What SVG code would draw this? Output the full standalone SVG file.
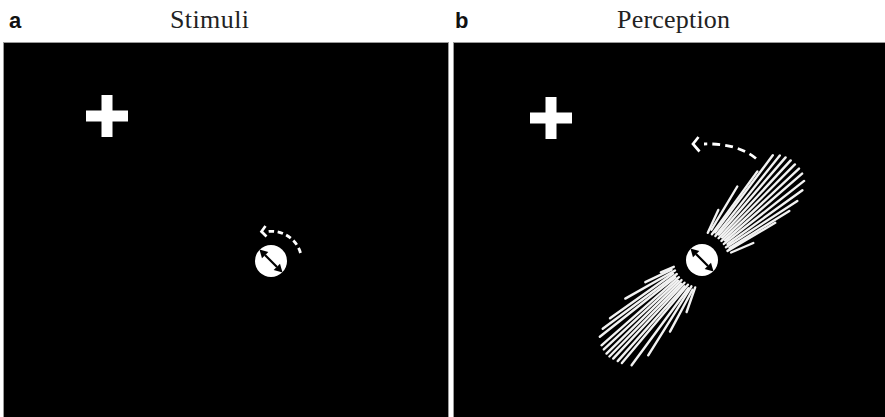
<svg xmlns="http://www.w3.org/2000/svg" xmlns:xlink="http://www.w3.org/1999/xlink" width="885" height="417" viewBox="0 0 885 417">
  <style>
    .panel { fill: #000; stroke: #9a9a9a; stroke-width: 1; }
    .letter { font-family: "Liberation Sans", Arial, sans-serif; font-weight: bold; font-size: 22px; fill: #111; }
    .title { font-family: "Liberation Serif", "Times New Roman", serif; font-size: 26px; fill: #222; }
    .cross { fill: #fff; }
    .ray { stroke: #f2f2f2; stroke-width: 2.4; stroke-linecap: round; fill: none; }
    .dash-s { fill: none; stroke: #fff; stroke-width: 2.8; stroke-dasharray: 5.5 3.5; }
    .dash-l { fill: none; stroke: #fff; stroke-width: 2.8; stroke-dasharray: 8 5; }
    .chev { fill: none; stroke: #fff; stroke-width: 2.7; stroke-linejoin: miter; stroke-linecap: butt; }
  </style>
  <defs>
    <!-- fixation cross, centred on its origin -->
    <path id="plus" class="cross" d="M-5.5,-21 H5.5 V-5.5 H21 V5.5 H5.5 V21 H-5.5 V5.5 H-21 V-5.5 H-5.5 Z"/>
    <!-- white disc carrying a double-headed orientation arrow -->
    <g id="dial">
      <circle r="16" fill="#fff"/>
      <line x1="-6" y1="-6" x2="6" y2="6" stroke="#000" stroke-width="2.2"/>
      <polygon points="-11.5,-11.5 -2.66,-9.02 -9.02,-2.66" fill="#000"/>
      <polygon points="11.5,11.5 2.66,9.02 9.02,2.66" fill="#000"/>
    </g>
  </defs>

  <rect width="885" height="417" fill="#fff"/>

  <!-- panel a: stimuli -->
  <g id="panel-a">
    <text class="letter" x="9" y="28">a</text>
    <text class="title" x="170" y="28" textLength="79" lengthAdjust="spacing">Stimuli</text>
    <rect class="panel" x="3.5" y="42.5" width="445" height="380"/>
    <use id="cross-a" xlink:href="#plus" x="107" y="116"/>
    <use id="dial-a" xlink:href="#dial" x="271" y="261"/>
    <g id="rotation-a">
      <path class="dash-s" d="M300.5,253 A30,30 0 0 0 268,231.5"/>
      <polyline class="chev" points="265.5,226 261.5,231.5 266.5,236.5"/>
    </g>
  </g>

  <!-- panel b: perception -->
  <g id="panel-b">
    <text class="letter" x="455" y="28">b</text>
    <text class="title" x="617" y="28" textLength="113" lengthAdjust="spacing">Perception</text>
    <rect class="panel" x="453.5" y="42.5" width="440" height="380"/>
    <use id="cross-b" xlink:href="#plus" x="551" y="118"/>

    <!-- smeared streaks on the upper-right side -->
    <g id="fan-upper">
      <line class="ray" x1="707.8" y1="232.8" x2="718.3" y2="209.9"/>
      <line class="ray" x1="711.4" y1="229.7" x2="737.3" y2="186.5"/>
      <line class="ray" x1="711.9" y1="234.2" x2="757.4" y2="171.4"/>
      <line class="ray" x1="715.1" y1="232.4" x2="772.8" y2="155.2"/>
      <line class="ray" x1="715.4" y1="236.0" x2="779.8" y2="155.4"/>
      <line class="ray" x1="718.8" y1="234.6" x2="785.6" y2="157.4"/>
      <line class="ray" x1="718.6" y1="238.2" x2="790.7" y2="160.4"/>
      <line class="ray" x1="722.1" y1="237.3" x2="794.9" y2="164.4"/>
      <line class="ray" x1="721.5" y1="240.9" x2="799.0" y2="168.6"/>
      <line class="ray" x1="725.1" y1="240.5" x2="802.1" y2="173.6"/>
      <line class="ray" x1="723.9" y1="243.9" x2="804.1" y2="180.9"/>
      <line class="ray" x1="727.6" y1="244.0" x2="802.4" y2="190.3"/>
      <line class="ray" x1="726.0" y1="247.3" x2="797.3" y2="201.0"/>
      <line class="ray" x1="729.5" y1="247.9" x2="789.3" y2="211.0"/>
      <line class="ray" x1="727.5" y1="250.9" x2="775.2" y2="222.8"/>
      <line class="ray" x1="731.1" y1="252.5" x2="753.3" y2="243.0"/>
    </g>

    <!-- smeared streaks on the lower-left side -->
    <g id="fan-lower">
      <line class="ray" x1="673.8" y1="266.8" x2="660.8" y2="272.3"/>
      <line class="ray" x1="671.5" y1="269.6" x2="645.3" y2="282.2"/>
      <line class="ray" x1="675.0" y1="270.5" x2="625.3" y2="298.6"/>
      <line class="ray" x1="673.1" y1="273.6" x2="610.0" y2="318.2"/>
      <line class="ray" x1="676.8" y1="274.0" x2="602.7" y2="328.8"/>
      <line class="ray" x1="675.3" y1="277.3" x2="599.8" y2="336.8"/>
      <line class="ray" x1="678.9" y1="277.2" x2="601.5" y2="345.3"/>
      <line class="ray" x1="678.0" y1="280.7" x2="603.8" y2="349.4"/>
      <line class="ray" x1="681.5" y1="280.1" x2="606.5" y2="353.6"/>
      <line class="ray" x1="681.1" y1="283.7" x2="609.4" y2="356.5"/>
      <line class="ray" x1="684.5" y1="282.7" x2="613.2" y2="358.6"/>
      <line class="ray" x1="684.6" y1="286.3" x2="617.7" y2="361.1"/>
      <line class="ray" x1="687.9" y1="284.7" x2="621.9" y2="363.1"/>
      <line class="ray" x1="688.4" y1="288.3" x2="631.6" y2="365.2"/>
      <line class="ray" x1="691.4" y1="286.3" x2="648.2" y2="355.3"/>
      <line class="ray" x1="692.5" y1="289.8" x2="670.0" y2="331.6"/>
      <line class="ray" x1="695.2" y1="287.4" x2="686.6" y2="312.0"/>
    </g>

    <use id="dial-b" xlink:href="#dial" x="702" y="260"/>
    <g id="rotation-b">
      <path class="dash-l" d="M756,158.5 Q737,143 704,144"/>
      <polyline class="chev" points="698.5,137 693,144 699.5,151.5"/>
    </g>
  </g>
</svg>
